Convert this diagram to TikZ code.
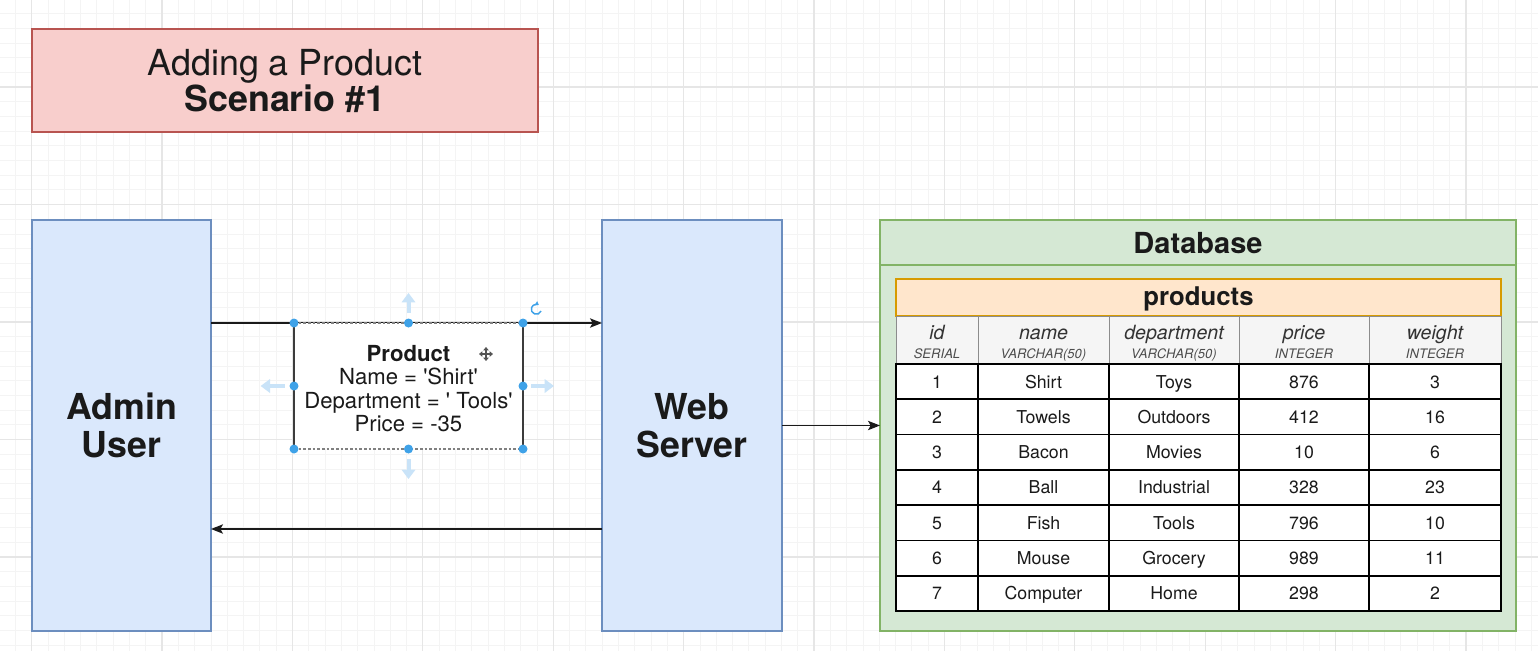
\documentclass[tikz,border=0pt]{standalone}
\usepackage{fontspec}
\setmainfont{TeX Gyre Heros}
\usetikzlibrary{fit,arrows.meta}

\definecolor{gridminor}{HTML}{F4F4F4}
\definecolor{gridmajor}{HTML}{E6E6E6}
\definecolor{pinkfill}{HTML}{F8CECC}
\definecolor{pinkline}{HTML}{B85450}
\definecolor{bluefill}{HTML}{DAE8FC}
\definecolor{blueline}{HTML}{6C8EBF}
\definecolor{greenfill}{HTML}{D5E8D4}
\definecolor{greenline}{HTML}{82B366}
\definecolor{orangefill}{HTML}{FFE6CC}
\definecolor{orangeline}{HTML}{D79B00}
\definecolor{headfill}{HTML}{F5F5F5}
\definecolor{headline}{HTML}{8C8C8C}
\definecolor{handle}{HTML}{3FA2E8}
\definecolor{handlelight}{HTML}{C9E3F8}
\definecolor{ink}{HTML}{1A1A1A}

\newcommand{\sz}[2]{\fontsize{#1}{#2}\selectfont}
\newcommand{\sq}{\textquotesingle}

\tikzset{
  box/.style={inner sep=0pt, outer sep=0pt, line width=1.1pt, align=center, text=ink},
  titlebox/.style={box, fill=pinkfill, draw=pinkline},
  actor/.style={box, fill=bluefill, draw=blueline},
  dbbox/.style={box, fill=greenfill, draw=greenline},
  tablehead/.style={box, fill=orangefill, draw=orangeline},
  colhead/.style={box, fill=headfill, draw=headline, line width=0.6pt},
  colname/.style={inner sep=0pt, text=black!80, font=\sz{14.7}{16}\itshape, text height=10.6pt, text depth=0pt},
  coltype/.style={inner sep=0pt, text=black!70, font=\sz{9.8}{10}\itshape, text height=7pt, text depth=0pt},
  cell/.style={box, fill=white, draw=black, line width=1.3pt},
  celltext/.style={inner sep=0pt, text=ink, font=\sz{13.3}{15}, text height=9.6pt, text depth=0pt},
  msgbox/.style={box, fill=white},
  conn/.style={draw=ink, line width=1.1pt, -{Stealth[length=9pt,width=7pt,inset=2pt]}},
  gridthin/.style={draw=gridminor, line width=0.5pt},
  gridthick/.style={draw=gridmajor, line width=0.8pt},
  grip/.style={draw=handlelight, line width=3pt, -{Triangle[length=7pt,width=10pt]}},
}

\begin{document}
\begin{tikzpicture}[x=0.75pt, y=-0.75pt]
  \useasboundingbox (0,0) rectangle (1538,651);
  \fill[white] (0,0) rectangle (1538,651);

  % background grid
  \begin{scope}
    \clip (0,0) rectangle (1538,651);
    \foreach \k in {-2,...,94} {\draw[gridthin] ({31.6+\k*16.3},0) -- ++(0,651);}
    \foreach \k in {-2,...,46} {\draw[gridthin] (0,{-30.5+\k*14.6875}) -- ++(1538,0);}
    \foreach \k in {0,...,11} {\draw[gridthick] ({31.6+\k*130.4},0) -- ++(0,651);}
    \foreach \k in {1,...,6} {\draw[gridthick] (0,{-30.5+\k*117.5}) -- ++(1538,0);}
  \end{scope}

  % title
  \node[titlebox, fit={(32,29)(538,132)}] (title) {};
  \node[font=\sz{26.9}{27}, text=ink, align=center, inner sep=0pt] (titletext) at (title.center)
    {Adding a Product\\\textbf{Scenario \#1}};

  % actors
  \node[actor, fit={(32,220)(211,631)}] (admin) {};
  \node[font=\sz{26.8}{28.5}\bfseries, text=ink, align=center, inner sep=0pt] (admintext) at (admin.center) {Admin\\User};
  \node[actor, fit={(602,220)(782,631)}] (web) {};
  \node[font=\sz{26.8}{28.5}\bfseries, text=ink, align=center, inner sep=0pt] (webtext) at (web.center) {Web\\Server};

  % database container
  \node[dbbox, fit={(880,220)(1516,631)}] (db) {};
  \draw[greenline, line width=1.1pt] ([yshift=-33.75pt]db.north west) -- ([yshift=-33.75pt]db.north east);
  \node[font=\sz{21.75}{24}\bfseries, text=ink, inner sep=0pt] (dbtitle) at ([yshift=-17pt]db.north) {Database};

  % table header
  \node[tablehead, fit={(896,279)(1501,316)}] (tbl) {};
  \node[font=\sz{19.3}{22}\bfseries, text=ink, inner sep=0pt] (tbltext) at ([yshift=-1pt]tbl.center) {products};

  % column headers
  \foreach \i/\xa/\xb/\nm/\ty in {1/896/978/id/SERIAL, 2/978/1109/name/VARCHAR(50),
      3/1109/1239/department/VARCHAR(50), 4/1239/1369/price/INTEGER, 5/1369/1501/weight/INTEGER} {
    \node[colhead, fit={(\xa,316)(\xb,364)}] (head\i) {};
    \node[colname] (headname\i) at ({(\xa+\xb)/2},332) {\nm};
    \node[coltype] (headtype\i) at ({(\xa+\xb)/2},353.5) {\ty};
  }

  % data rows
  \foreach \r/\va/\vb/\vc/\vd/\ve in {1/1/Shirt/Toys/876/3, 2/2/Towels/Outdoors/412/16,
      3/3/Bacon/Movies/10/6, 4/4/Ball/Industrial/328/23, 5/5/Fish/Tools/796/10,
      6/6/Mouse/Grocery/989/11, 7/7/Computer/Home/298/2} {
    \pgfmathsetmacro{\ya}{364+(\r-1)*35.2857}
    \pgfmathsetmacro{\yb}{364+\r*35.2857}
    \node[cell, fit={(896,\ya)(978,\yb)}] (c\r a) {};
    \node[cell, fit={(978,\ya)(1109,\yb)}] (c\r b) {};
    \node[cell, fit={(1109,\ya)(1239,\yb)}] (c\r c) {};
    \node[cell, fit={(1239,\ya)(1369,\yb)}] (c\r d) {};
    \node[cell, fit={(1369,\ya)(1501,\yb)}] (c\r e) {};
    \node[celltext] (t\r a) at (c\r a.center) {\va};
    \node[celltext] (t\r b) at (c\r b.center) {\vb};
    \node[celltext] (t\r c) at (c\r c.center) {\vc};
    \node[celltext] (t\r d) at (c\r d.center) {\vd};
    \node[celltext] (t\r e) at (c\r e.center) {\ve};
  }

  % product message box (its top edge sits on the request line)
  \node[msgbox, fit={(294,323)(523,449)}] (prod) {};

  % connectors
  \draw[conn] (admin.east |- prod.north) -- (web.west |- prod.north);
  \draw[conn] ([yshift=76.5pt]web.south west) -- ([yshift=76.5pt]admin.south east);
  \draw[conn] (web.east) -- (db.west);

  % message box drawn over the request line
  \fill[white] (prod.north west) rectangle (prod.south east);
  \draw[ink!85, line width=1pt] (prod.north west) -- (prod.south west);
  \draw[ink!85, line width=1pt] (prod.north east) -- (prod.south east);
  \draw[gray, line width=1pt, dash pattern=on 2pt off 1.5pt] (prod.north west) -- (prod.north east);
  \draw[gray, line width=1pt, dash pattern=on 2pt off 1.5pt] (prod.south west) -- (prod.south east);
  \node[font=\sz{16.6}{17.6}, text=ink, align=center, inner sep=0pt] (prodtext) at ([yshift=-1.8pt]prod.center)
    {\textbf{Product}\\Name = \sq Shirt\sq\\Department = \sq\ Tools\sq\\Price = -35};

  % selection handles
  \draw[grip] ([yshift=7.5pt]prod.north) -- ++(0,-20);
  \draw[grip] ([yshift=-7.5pt]prod.south) -- ++(0,20);
  \draw[grip] ([xshift=-7pt]prod.west) -- ++(-24,0);
  \draw[grip] ([xshift=6pt]prod.east) -- ++(23,0);
  \foreach \a in {north west, north, north east, west, east, south west, south, south east}
    \fill[handle] (prod.\a) circle[radius=4.5];
  \draw[handle, line width=1.1pt, -{Triangle[length=2.5pt,width=3.5pt]}]
    ([xshift=13.5pt,yshift=9pt]prod.north east) arc[start angle=20, end angle=300, radius=5];

  % move cursor
  \begin{scope}[shift={(486,354)}]
    \draw[ink!75, line width=1.4pt, {Triangle[length=2.5pt,width=4pt]}-{Triangle[length=2.5pt,width=4pt]}] (-7,0) -- (7,0);
    \draw[ink!75, line width=1.4pt, {Triangle[length=2.5pt,width=4pt]}-{Triangle[length=2.5pt,width=4pt]}] (0,-7) -- (0,7);
  \end{scope}
\end{tikzpicture}
\end{document}
